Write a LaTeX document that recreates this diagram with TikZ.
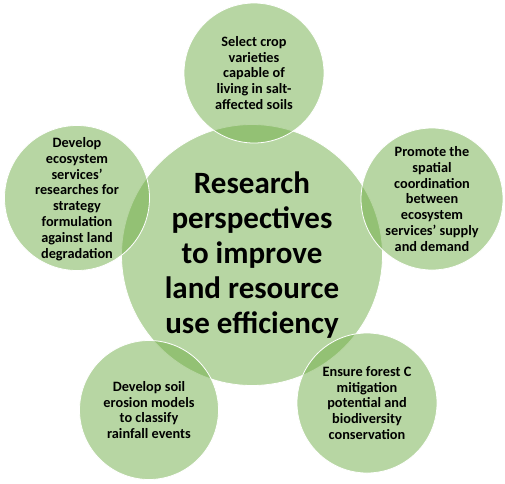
\documentclass[tikz,border=0pt]{standalone}
\usepackage{fontspec}
\setmainfont{Carlito}
\definecolor{leafgreen}{HTML}{70AD47}
\tikzset{
  bubble/.style={circle, draw=white, line width=0.8pt, fill=leafgreen, fill opacity=0.5, inner sep=0pt},
  smalltext/.style={align=center, font=\bfseries\fontsize{14.3}{15.8}\selectfont},
  bigtext/.style={align=center, font=\bfseries\fontsize{31}{35}\selectfont}
}
\begin{document}
\begin{tikzpicture}[x=1pt, y=-1pt]
\useasboundingbox (0,0) rectangle (505,483);
% centre bubble first, the others on top
\node[bubble, minimum size=261pt] (hub) at (252,255) {};
\node[bubble, minimum size=140pt] (crop) at (254,73) {};
\node[bubble, minimum size=145pt] (eco) at (77,198) {};
\node[bubble, minimum size=142pt] (coord) at (432,199) {};
\node[bubble, minimum size=139pt] (soil) at (149,410) {};
\node[bubble, minimum size=140pt] (forest) at (367,403) {};
% texts
\node[bigtext] (hubtxt) at (hub.center) {Research\\perspectives\\to improve\\land resource\\use efficiency};
\node[smalltext] (croptxt) at (crop.center) {Select crop\\varieties\\capable of\\living in salt-\\affected soils};
\node[smalltext] (ecotxt) at (77,199) {Develop\\ecosystem\\services’\\researches for\\strategy\\formulation\\against land\\degradation};
\node[smalltext] (coordtxt) at (coord.center) {Promote the\\spatial\\coordination\\between\\ecosystem\\services’ supply\\and demand};
\node[smalltext] (soiltxt) at (soil.center) {Develop soil\\erosion models\\to classify\\rainfall events};
\node[smalltext] (foresttxt) at (forest.center) {Ensure forest C\\mitigation\\potential and\\biodiversity\\conservation};
\end{tikzpicture}
\end{document}
